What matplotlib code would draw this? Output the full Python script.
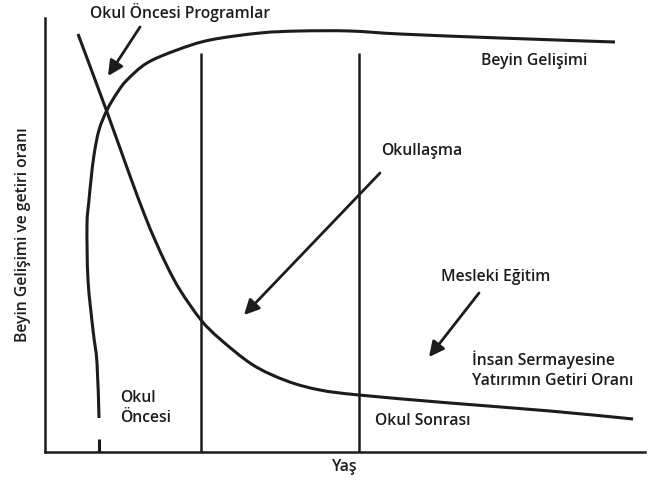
import matplotlib
matplotlib.use("Agg")
import matplotlib.pyplot as plt
from matplotlib.path import Path
from matplotlib.patches import PathPatch

plt.rcParams['font.family'] = ['Open Sans', 'DejaVu Sans']

# Chart units: x = age axis (0..600), y = brain development / return (0..434)
brain_x = [54, 52, 48, 43, 42, 44, 46, 49, 54, 62, 72, 82, 102, 132, 165, 215, 255, 305, 355, 455, 570]
brain_y = [34, 89, 122, 172, 227, 252, 272, 297, 322, 342, 359, 372, 389, 402, 412, 419, 421, 421, 418, 414, 410]

return_x = [33, 62, 85, 100, 110, 122, 135, 156, 175, 208, 242, 275, 314, 405, 505, 588]
return_y = [418, 340, 276, 236, 212, 186, 162, 132, 113, 87, 71, 62, 57, 49, 41, 33]

stage_x = [156, 314]
stage_top = 399

labels = {
    'programs': 'Okul Öncesi Programlar',
    'brain': 'Beyin Gelişimi',
    'school': 'Okullaşma',
    'vocational': 'Mesleki Eğitim',
    'return': 'İnsan Sermayesine\nYatırımın Getiri Oranı',
    'pre': 'Okul\nÖncesi',
    'post': 'Okul Sonrası',
}

ink = '#1c1c1c'


# smooth path through the read points (Catmull-Rom drawn as cubic bezier)
def smooth_path(xs, ys):
    pts = list(zip(xs, ys))
    verts = [pts[0]]
    codes = [Path.MOVETO]
    for i in range(len(pts) - 1):
        p0 = pts[max(i - 1, 0)]
        p1 = pts[i]
        p2 = pts[i + 1]
        p3 = pts[min(i + 2, len(pts) - 1)]
        c1 = (p1[0] + (p2[0] - p0[0]) / 6, p1[1] + (p2[1] - p0[1]) / 6)
        c2 = (p2[0] - (p3[0] - p1[0]) / 6, p2[1] - (p3[1] - p1[1]) / 6)
        verts += [c1, c2, p2]
        codes += [Path.CURVE4] * 3
    return Path(verts, codes)


fig = plt.figure(figsize=(6.6, 4.82), dpi=100)
ax = fig.add_axes([45 / 660, 30 / 482, 600 / 660, 434 / 482])
ax.set_xlim(0, 600)
ax.set_ylim(0, 434)

for side in ['top', 'right']:
    ax.spines[side].set_visible(False)
for side in ['left', 'bottom']:
    ax.spines[side].set_linewidth(1.8)
    ax.spines[side].set_color(ink)
ax.set_xticks([])
ax.set_yticks([])

# curves
for xs, ys in [(brain_x, brain_y), (return_x, return_y)]:
    ax.add_patch(PathPatch(smooth_path(xs, ys), facecolor='none', edgecolor=ink,
                           lw=2.2, capstyle='butt', clip_on=False))
ax.plot([brain_x[0], brain_x[0]], [0, 13], color=ink, lw=2.2, solid_capstyle='butt')

# stage separators
for sx in stage_x:
    ax.plot([sx, sx], [0, stage_top], color=ink, lw=1.8, solid_capstyle='butt')

# arrows
arrow_kw = dict(arrowstyle='-|>,head_length=0.9,head_width=0.45', color=ink, lw=2.0,
                shrinkA=0, shrinkB=0)
ax.annotate('', xy=(63, 376), xytext=(95, 425), arrowprops=arrow_kw, annotation_clip=False)
ax.annotate('', xy=(199, 137), xytext=(335, 279), arrowprops=arrow_kw)
ax.annotate('', xy=(384, 95), xytext=(434, 159), arrowprops=arrow_kw)

fs = 11.3
ax.text(135, 440, labels['programs'], ha='center', va='center', fontsize=fs, color=ink,
        fontweight='semibold', clip_on=False)
ax.text(436, 391, labels['brain'], ha='left', va='center', fontsize=fs, color=ink, fontweight='semibold')
ax.text(336, 301, labels['school'], ha='left', va='center', fontsize=fs, color=ink, fontweight='semibold')
ax.text(396, 175, labels['vocational'], ha='left', va='center', fontsize=fs, color=ink, fontweight='semibold')
ax.text(427, 82, labels['return'], ha='left', va='center', fontsize=fs, color=ink,
        fontweight='semibold', linespacing=1.3)
ax.text(75, 44, labels['pre'], ha='left', va='center', fontsize=fs, color=ink,
        fontweight='semibold', linespacing=1.3)
ax.text(330, 31, labels['post'], ha='left', va='center', fontsize=fs, color=ink, fontweight='semibold')

ax.set_xlabel('Yaş', fontsize=fs, color=ink, fontweight='semibold', labelpad=5)
ax.set_ylabel('Beyin Gelişimi ve getiri oranı', fontsize=fs, color=ink, fontweight='semibold', labelpad=10)

fig.savefig('out.png', dpi=100)
